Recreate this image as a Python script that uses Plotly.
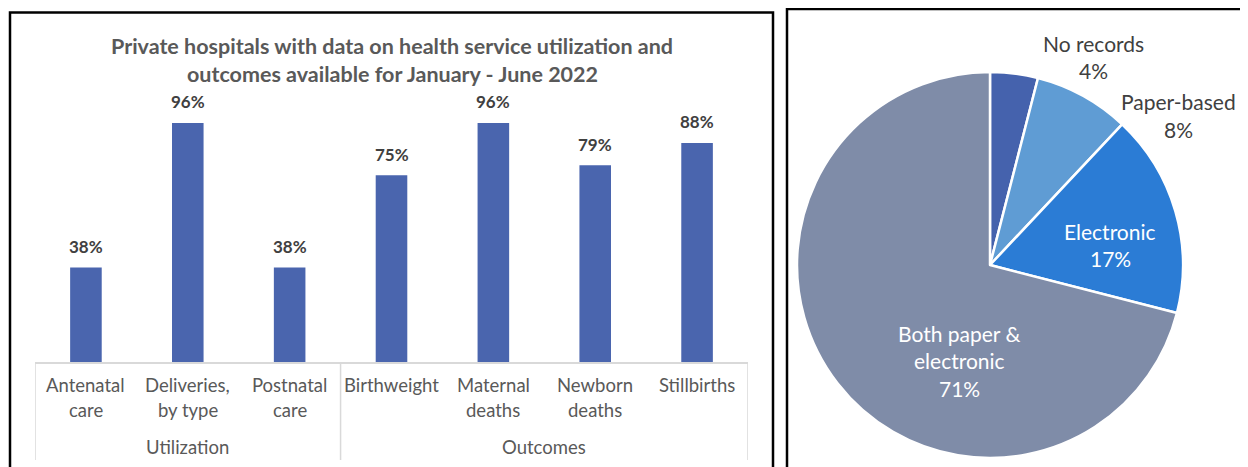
import plotly.graph_objects as go

# ---------------- data ----------------
categories = ["Antenatal\ncare", "Deliveries,\nby type", "Postnatal\ncare", "Birthweight",
              "Maternal\ndeaths", "Newborn\ndeaths", "Stillbirths"]
values = [38, 96, 38, 75, 96, 79, 88]
groups = ["Utilization", "Outcomes"]
group_members = [[0, 1, 2], [3, 4, 5, 6]]
title_lines = ["Private hospitals with data on health service utilization and",
               "outcomes available for January - June 2022"]

pie_labels = ["No records", "Paper-based", "Electronic", "Both paper &\nelectronic"]
pie_values = [4, 8, 17, 71]
pie_colors = ["#4562AD", "#5F9CD4", "#2B7CD5", "#7F8CA8"]

# ---------------- layout helpers ----------------
OFF = 8  # page body margin
W, H = 1248 - OFF, 467 - OFF
def px(x): return (x - OFF) / W
def py(y): return 1 - (y - OFF) / H

FONT = "Lato"
cat_keys = [c.replace("\n", " ") for c in categories]

fig = go.Figure()

fig.add_trace(go.Bar(
    x=cat_keys, y=values, width=0.31,
    marker=dict(color="#4A65AE", line=dict(width=0)),
    xaxis="x", yaxis="y", showlegend=False, hoverinfo="x+y",
))

fig.add_trace(go.Pie(
    labels=[l.replace("\n", " ") for l in pie_labels], values=pie_values,
    sort=False, direction="clockwise", rotation=0,
    marker=dict(colors=pie_colors, line=dict(color="white", width=2.5)),
    textinfo="none", showlegend=False,
    domain=dict(x=[px(797), px(1183)], y=[py(458), py(72)]),
))

annotations = []
shapes = []

def add_lines(lines, x, y_first, spacing, font, xref="paper", yref="paper"):
    for i, line in enumerate(lines):
        annotations.append(dict(
            text=line, x=x, y=y_first, xref=xref, yref=yref,
            yshift=-i * spacing, showarrow=False,
            xanchor="center", yanchor="middle", font=font,
        ))

# title
add_lines(title_lines, px(392), py(46), 28,
          dict(family=FONT, size=21.5, color="#595959", weight="bold"))

# value labels
for k, v in zip(cat_keys, values):
    annotations.append(dict(
        text=f"{v}%", x=k, y=v, xref="x", yref="y", yshift=21,
        showarrow=False, xanchor="center", yanchor="middle",
        font=dict(family=FONT, size=17, color="#404040", weight="bold"),
    ))

# category labels
catfont = dict(family=FONT, size=18.5, color="#595959")
for k, c in zip(cat_keys, categories):
    add_lines(c.split("\n"), k, py(385), 25, catfont, xref="x")

# group labels
for g, members in zip(groups, group_members):
    mid = (members[0] + members[-1]) / 2
    annotations.append(dict(
        text=g, x=mid, y=py(447), xref="x", yref="paper", showarrow=False,
        xanchor="center", yanchor="middle", font=catfont,
    ))

# group dividers
bounds = [-0.5] + [m[-1] + 0.5 for m in group_members]
for b in bounds:
    shapes.append(dict(type="line", xref="x", yref="paper", x0=b, x1=b,
                       y0=py(363), y1=py(460), line=dict(color="#D9D9D9", width=1.5)))

# pie labels
total = sum(pie_values)
pie_label_pos = [(1093, 43, "#404040"), (1178, 102, "#404040"),
                 (1110, 231, "white"), (959, 333, "white")]
for lab, val, (x, y, col) in zip(pie_labels, pie_values, pie_label_pos):
    lines = lab.split("\n") + [f"{round(100 * val / total)}%"]
    add_lines(lines, px(x), py(y), 27.5, dict(family=FONT, size=21, color=col))

# panel borders
shapes.append(dict(type="rect", xref="paper", yref="paper",
                   x0=px(10), x1=px(773), y0=py(478), y1=py(12.5),
                   line=dict(color="black", width=2.5)))
shapes.append(dict(type="rect", xref="paper", yref="paper",
                   x0=px(787), x1=px(1262), y0=py(478), y1=py(9),
                   line=dict(color="black", width=2.5)))

fig.update_layout(
    width=W, height=H, margin=dict(l=0, r=0, t=0, b=0),
    paper_bgcolor="white", plot_bgcolor="white",
    xaxis=dict(domain=[px(35), px(748)], type="category", range=[-0.5, 6.5],
               showticklabels=False, showgrid=False, zeroline=False,
               showline=True, linecolor="#D9D9D9", linewidth=1.5, ticks=""),
    yaxis=dict(domain=[py(362), py(113)], range=[0, 100], visible=False),
    annotations=annotations, shapes=shapes,
    bargap=0.69,
)

fig.write_html("out.html")
